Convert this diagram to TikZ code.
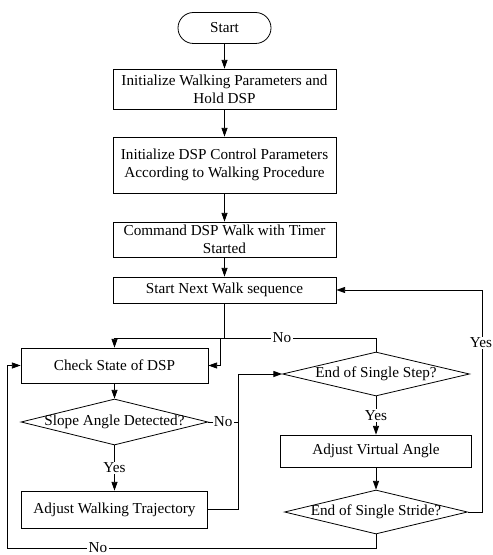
\documentclass[tikz,border=0pt]{standalone}
\usepackage{fontspec}
\setmainfont{Liberation Serif}
\usetikzlibrary{shapes.geometric,arrows.meta,calc}
\begin{document}
\begin{tikzpicture}[x=0.75pt,y=-0.75pt,
  every node/.style={font=\fontsize{11.4}{13.5}\selectfont},
  box/.style={draw,line width=0.6pt,rectangle,align=center,inner sep=1pt,minimum width=#1},
  term/.style={draw,line width=0.6pt,rectangle,rounded corners=11.6pt,minimum width=69.75pt,minimum height=23.25pt},
  dec/.style={draw,line width=0.6pt,diamond,inner sep=0pt,aspect=4},
  arr/.style={draw,line width=0.6pt,-{Triangle[length=6.5pt,width=4.5pt]}},
  ln/.style={draw,line width=0.6pt},
  lbl/.style={fill=white,inner sep=1pt}]
\useasboundingbox (0,0) rectangle (492,555);

\node[term] (start) at (224.5,28) {Start};
\node[box=167.25pt,minimum height=30pt] (b1) at (224.5,89) {Initialize Walking Parameters and\\Hold DSP};
\node[box=167.25pt,minimum height=42pt] (b2) at (224.5,165) {Initialize DSP Control Parameters\\According to Walking Procedure};
\node[box=167.25pt,minimum height=26.25pt] (b3) at (224.5,239.5) {Command DSP Walk with Timer\\Started};
\node[box=167.25pt,minimum height=19.5pt] (b4) at (224.5,290) {Start Next Walk sequence};
\node[box=140.25pt,minimum height=26.25pt] (check) at (114.5,365.5) {Check State of DSP};
\node[dec,minimum width=140.25pt,minimum height=34.5pt] (slope) at (114.5,422) {\makebox[0pt]{Slope Angle Detected?}};
\node[box=139.5pt,minimum height=27.75pt] (traj) at (114.5,509.5) {Adjust Walking Trajectory};
\node[dec,minimum width=140.25pt,minimum height=33pt] (step) at (376,374) {\makebox[0pt]{End of Single Step?}};
\node[box=143.25pt,minimum height=24pt] (virt) at (376,451) {Adjust Virtual Angle};
\node[dec,minimum width=137.25pt,minimum height=33pt] (stride) at (376,512) {\makebox[0pt]{End of Single Stride?}};

\coordinate (vline) at (238,0);
\coordinate (nl) at (220,338);
\coordinate (rx) at (482,0);
\coordinate (bl) at (7,548);

\draw[arr] (start) -- (b1);
\draw[arr] (b1) -- (b2);
\draw[arr] (b2) -- (b3);
\draw[arr] (b3) -- (b4);
\draw[arr] (b4.south) -- ++(0,35) -| (check.north);
\draw[arr] (check) -- (slope);
\draw[arr] (slope.south) -- node[lbl] {Yes} (traj.north);
\draw[ln] (slope.east) -- node[lbl] {No} (slope.east -| vline);
\draw[arr] (traj.east) -- (traj.east -| vline) |- (step.west);
\draw[arr] (step.north) |- (nl) -- (nl |- check.east) -- (check.east);
\node[lbl] at (282,338) {No};
\draw[arr] (step.south) -- node[lbl] {Yes} (virt.north);
\draw[arr] (virt) -- (stride);
\draw[arr] (stride.east) -- (stride.east -| rx) |- (b4.east);
\node[lbl] at (481,343) {Yes};
\draw[arr] (stride.south) |- (bl) |- (check.west);
\node[lbl] at (98,548) {No};
\end{tikzpicture}
\end{document}
